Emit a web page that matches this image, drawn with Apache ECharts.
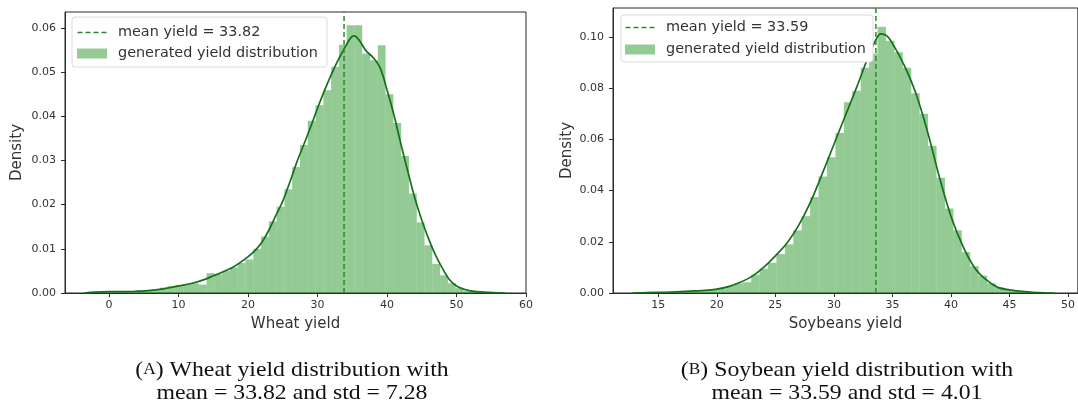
<!DOCTYPE html>
<html>
<head>
<meta charset="utf-8">
<script src="https://cdn.jsdelivr.net/npm/echarts@6/dist/echarts.min.js"></script>
<style>
  html, body { margin: 0; padding: 0; background: #fff; }
  #chart { width: 1078px; height: 410px; }
</style>
</head>
<body>
<div id="chart"></div>
<script>
// ---- Wheat: histogram (density per bin), KDE curve, summary stats ----
const wheatBinStart = -1.64;
const wheatBinWidth = 1.12;
const wheatDensity = [
  0.0002, 0.0003, 0.0003, 0.0003, 0.0004, 0.0005, 0.0006, 0.0008, 0.0012, 0.0015,
  0.0018, 0.0020, 0.0022, 0.0019, 0.0045, 0.0042, 0.0050, 0.0058, 0.0068, 0.0076,
  0.0100, 0.0128, 0.0162, 0.0195, 0.0235, 0.0285, 0.0335, 0.0390, 0.0425, 0.0459,
  0.0512, 0.0562, 0.0606, 0.0606, 0.0542, 0.0527, 0.0561, 0.0450, 0.0385, 0.0310,
  0.0225, 0.0160, 0.0108, 0.0066, 0.0040, 0.0022, 0.0011, 0.0006, 0.0003, 0.0001
];
const wheatKdeX = [-3.6, -2, 0, 2, 4, 6, 8, 10, 12, 14, 15, 16, 18, 20, 21, 22, 23, 24, 25, 26,
  27, 28, 29, 30, 31, 32, 33, 34, 34.8, 35.3, 36, 37, 38, 39, 40, 41, 42, 43, 44, 45,
  46, 47, 48, 49, 50, 51, 52, 54, 57];
const wheatKdeY = [0.0000, 0.0002, 0.0003, 0.0003, 0.0004, 0.0006, 0.0010, 0.0016, 0.0022, 0.0032,
  0.0039, 0.0045, 0.0060, 0.0082, 0.0096, 0.0115, 0.0142, 0.0175, 0.0208, 0.0250,
  0.0295, 0.0335, 0.0375, 0.0418, 0.0458, 0.0495, 0.0528, 0.0557, 0.0578, 0.0582,
  0.0572, 0.0548, 0.0533, 0.0510, 0.0460, 0.0403, 0.0337, 0.0275, 0.0215, 0.0165,
  0.0122, 0.0085, 0.0055, 0.0030, 0.0016, 0.0009, 0.0005, 0.0002, 0.0000];
const wheatMean = 33.82;
const wheatStd = 7.28;
const wheatXTicks = [0, 10, 20, 30, 40, 50, 60];
const wheatYTicks = [0, 0.01, 0.02, 0.03, 0.04, 0.05, 0.06];

// ---- Soybeans: histogram, KDE curve, summary stats ----
const soyBinStart = 12.85;
const soyBinWidth = 0.72;
const soyDensity = [
  0.0002, 0.0002, 0.0003, 0.0003, 0.0004, 0.0005, 0.0006, 0.0008, 0.0009, 0.0012,
  0.0016, 0.0028, 0.0038, 0.0042, 0.0072, 0.0095, 0.0118, 0.0152, 0.0190, 0.0245,
  0.0300, 0.0375, 0.0455, 0.0530, 0.0625, 0.0745, 0.0790, 0.0880, 0.0935, 0.1040,
  0.0985, 0.0940, 0.0880, 0.0780, 0.0700, 0.0575, 0.0450, 0.0330, 0.0245, 0.0160,
  0.0105, 0.0068, 0.0038, 0.0022, 0.0012, 0.0008, 0.0005, 0.0003, 0.0002, 0.0001
];
const soyKdeX = [12.8, 14, 16, 18, 19, 20, 21, 22, 23, 24, 25, 26, 27, 28, 29, 30, 31, 32, 33,
  33.6, 34.0, 34.5, 35, 36, 37, 38, 39, 40, 41, 42, 43, 44, 45, 46, 47, 48, 48.8];
const soyKdeY = [0.0000, 0.0002, 0.0004, 0.0008, 0.0010, 0.0015, 0.0025, 0.0042, 0.0065, 0.0100,
  0.0145, 0.0195, 0.0265, 0.0355, 0.0465, 0.0580, 0.0695, 0.0810, 0.0930,
  0.0990, 0.1012, 0.1005, 0.0975, 0.0890, 0.0780, 0.0630, 0.0455, 0.0300, 0.0185,
  0.0100, 0.0052, 0.0022, 0.0012, 0.0006, 0.0003, 0.0001, 0.0000];
const soyMean = 33.59;
const soyStd = 4.01;
const soyXTicks = [15, 20, 25, 30, 35, 40, 45, 50];
const soyYTicks = [0, 0.02, 0.04, 0.06, 0.08, 0.10];

// ---- styling ----
const FONT = 'DejaVu Sans';
const INK = '#2b2b2b';
const BAR_FILL = 'rgba(0, 128, 0, 0.42)';
const KDE_COLOR = '#12711a';
const MEAN_COLOR = '#2a8a2a';
const HIST_NAME = 'generated yield distribution';
const wheatMeanName = 'mean yield = ' + wheatMean.toFixed(2);
const soyMeanName = 'mean yield = ' + soyMean.toFixed(2);
// dashed-line legend glyph; the tiny corner squares fix the icon's box height
const DASH_ICON = 'path://M0,0h0.01v0.01h-0.01z M0,4.2h5v1.6h-5z M8,4.2h5v1.6h-5z M16,4.2h5v1.6h-5z M24,4.2h5v1.6h-5z M0,10h0.01v0.01h-0.01z';

const zip = (xs, ys) => xs.map((x, i) => [x, ys[i]]);
const histItems = (start, width, heights) =>
  heights.map((h, i) => [start + i * width, start + (i + 1) * width, h]);

function renderBin(params, api) {
  const topLeft = api.coord([api.value(0), api.value(2)]);
  const bottomRight = api.coord([api.value(1), 0]);
  return {
    type: 'rect',
    shape: {
      x: topLeft[0], y: topLeft[1],
      width: bottomRight[0] - topLeft[0],
      height: bottomRight[1] - topLeft[1]
    },
    style: { fill: BAR_FILL }
  };
}

function xAxisOf(gridIndex, min, max, ticks, name) {
  return {
    gridIndex, type: 'value', min, max,
    axisLine: { show: true, onZero: false, lineStyle: { color: INK, width: 1 } },
    axisTick: { show: true, length: 4, customValues: ticks, lineStyle: { color: INK } },
    axisLabel: { customValues: ticks, fontFamily: FONT, fontSize: 11, color: '#333', margin: 7 },
    splitLine: { show: false },
    name, nameLocation: 'middle', nameGap: 24,
    nameTextStyle: { fontFamily: FONT, fontSize: 15, color: '#333' }
  };
}

function yAxisOf(gridIndex, max, ticks, nameGap) {
  return {
    gridIndex, type: 'value', min: 0, max,
    axisLine: { show: true, onZero: false, lineStyle: { color: INK, width: 1 } },
    axisTick: { show: true, length: 4, customValues: ticks, lineStyle: { color: INK } },
    axisLabel: {
      customValues: ticks, fontFamily: FONT, fontSize: 11, color: '#333', margin: 9,
      formatter: v => Number(v).toFixed(2)
    },
    splitLine: { show: false },
    name: 'Density', nameLocation: 'middle', nameGap,
    nameTextStyle: { fontFamily: FONT, fontSize: 15, color: '#333' }
  };
}

function legendOf(left, top, padding, itemGap, meanName) {
  return {
    orient: 'vertical', left, top, padding, itemGap,
    itemWidth: 30, itemHeight: 10,
    symbolKeepAspect: true,
    backgroundColor: '#fff', borderColor: '#dcdcdc', borderWidth: 1, borderRadius: 3,
    selectedMode: false,
    textStyle: { fontFamily: FONT, fontSize: 14.4, color: '#333', lineHeight: 15, padding: [0, 0, 0, 6] },
    data: [
      { name: meanName, icon: DASH_ICON, itemStyle: { color: MEAN_COLOR, borderWidth: 0 } },
      { name: HIST_NAME, icon: 'rect', itemStyle: { color: BAR_FILL, borderWidth: 0 } }
    ]
  };
}

const wheatYMax = 0.0636;
const soyYMax = 0.1113;

function caption(x, y, text) {
  return {
    type: 'text', x, y, scaleX: 1.08,
    style: {
      text, align: 'center', verticalAlign: 'middle',
      fontFamily: 'Liberation Serif', fontSize: 22, fill: '#111',
      rich: { sc: { fontFamily: 'Liberation Serif', fontSize: 16, fill: '#111' } }
    }
  };
}

const option = {
  animation: false,
  backgroundColor: '#fff',
  grid: [
    { left: 65, top: 12, width: 461, height: 281, show: true, borderColor: INK, borderWidth: 1, backgroundColor: 'transparent' },
    { left: 613, top: 8, width: 472, height: 285, show: true, borderColor: INK, borderWidth: 1, backgroundColor: 'transparent' }
  ],
  xAxis: [
    xAxisOf(0, -6.33, 60, wheatXTicks, 'Wheat yield'),
    xAxisOf(1, 11.13, 50.84, soyXTicks, 'Soybeans yield')
  ],
  yAxis: [
    yAxisOf(0, wheatYMax, wheatYTicks, 40),
    yAxisOf(1, soyYMax, soyYTicks, 38)
  ],
  legend: [
    legendOf(72, 17, [8, 9, 6, 5], 6, wheatMeanName),
    legendOf(621, 15, [5, 7, 5, 4], 7, soyMeanName)
  ],
  series: [
    {
      name: HIST_NAME, type: 'custom', xAxisIndex: 0, yAxisIndex: 0,
      renderItem: renderBin, encode: { x: [0, 1], y: 2 },
      itemStyle: { color: BAR_FILL },
      data: histItems(wheatBinStart, wheatBinWidth, wheatDensity), z: 1
    },
    {
      name: 'wheat kde', type: 'line', xAxisIndex: 0, yAxisIndex: 0,
      data: zip(wheatKdeX, wheatKdeY), smooth: 0.35, symbol: 'none',
      lineStyle: { color: KDE_COLOR, width: 1.7 }, z: 3
    },
    {
      name: wheatMeanName, type: 'line', xAxisIndex: 0, yAxisIndex: 0,
      data: [[wheatMean, 0], [wheatMean, wheatYMax]], symbol: 'none',
      lineStyle: { color: MEAN_COLOR, width: 1.5, type: [5, 3] }, z: 4
    },
    {
      name: HIST_NAME, type: 'custom', xAxisIndex: 1, yAxisIndex: 1,
      renderItem: renderBin, encode: { x: [0, 1], y: 2 },
      itemStyle: { color: BAR_FILL },
      data: histItems(soyBinStart, soyBinWidth, soyDensity), z: 1
    },
    {
      name: 'soy kde', type: 'line', xAxisIndex: 1, yAxisIndex: 1,
      data: zip(soyKdeX, soyKdeY), smooth: 0.35, symbol: 'none',
      lineStyle: { color: KDE_COLOR, width: 1.7 }, z: 3
    },
    {
      name: soyMeanName, type: 'line', xAxisIndex: 1, yAxisIndex: 1,
      data: [[soyMean, 0], [soyMean, soyYMax]], symbol: 'none',
      lineStyle: { color: MEAN_COLOR, width: 1.5, type: [5, 3] }, z: 4
    }
  ],
  graphic: [
    caption(292, 370, '({sc|A}) Wheat yield distribution with'),
    caption(292, 393, 'mean = ' + wheatMean.toFixed(2) + ' and std = ' + wheatStd.toFixed(2)),
    caption(847, 370, '({sc|B}) Soybean yield distribution with'),
    caption(847, 393, 'mean = ' + soyMean.toFixed(2) + ' and std = ' + soyStd.toFixed(2))
  ]
};

const chart = echarts.init(document.getElementById('chart'), null, { renderer: 'canvas' });
chart.setOption(option);
</script>
</body>
</html>
